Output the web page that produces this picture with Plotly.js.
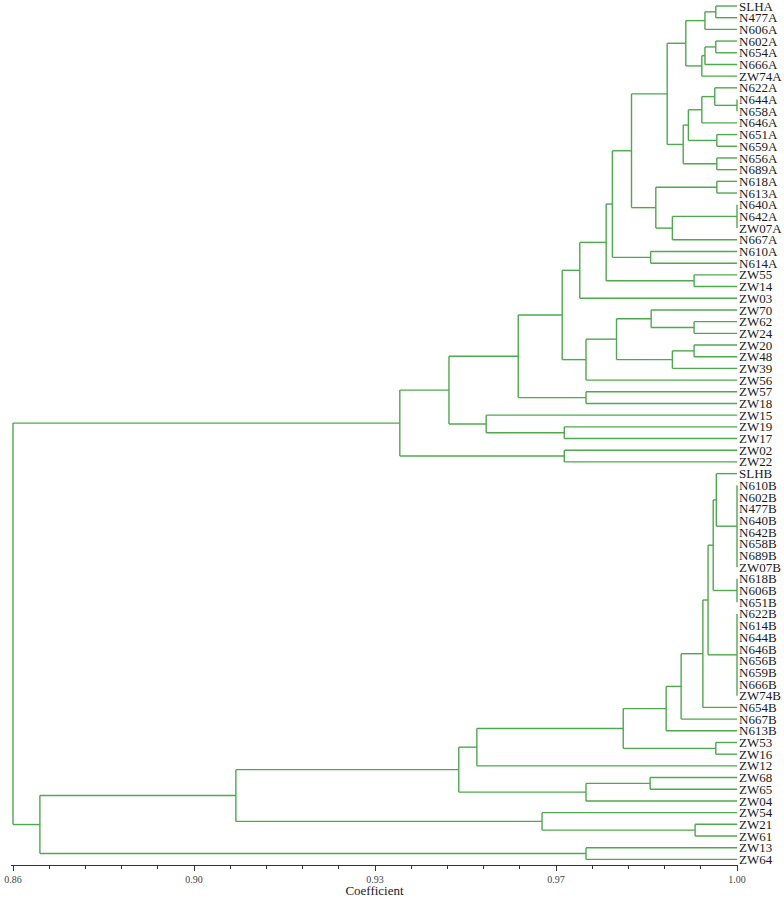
<!DOCTYPE html>
<html>
<head>
<meta charset="utf-8">
<script src="https://cdn.plot.ly/plotly-3.0.1.min.js"></script>
<style>
  html, body { margin: 0; padding: 0; background: #ffffff; }
  #chart { width: 784px; height: 898px; }
</style>
</head>
<body>
<div id="chart"></div>
<script>
// Leaf labels, top to bottom
const leaves = ['SLHA','N477A','N606A','N602A','N654A','N666A','ZW74A','N622A','N644A','N658A',
  'N646A','N651A','N659A','N656A','N689A','N618A','N613A','N640A','N642A','ZW07A',
  'N667A','N610A','N614A','ZW55','ZW14','ZW03','ZW70','ZW62','ZW24','ZW20',
  'ZW48','ZW39','ZW56','ZW57','ZW18','ZW15','ZW19','ZW17','ZW02','ZW22',
  'SLHB','N610B','N602B','N477B','N640B','N642B','N658B','N689B','ZW07B','N618B',
  'N606B','N651B','N622B','N614B','N644B','N646B','N656B','N659B','N666B','ZW74B',
  'N654B','N667B','N613B','ZW53','ZW16','ZW12','ZW68','ZW65','ZW04','ZW54',
  'ZW21','ZW61','ZW13','ZW64'];

// Cluster merges: name, members, similarity coefficient
const mergeNames = ['n1','n2','n3','n4','n5','n6','n7','n8','n9','n10',
  'n11','n12','n13','n14','n15','n16','n17','n18','n19','n20',
  'n21','n22','n23','n24','n25','n26','n27','n28','n29','n30',
  'n31','n32','n33','n34','n35','n36','n37','n38',
  'b1','b2','b3','b4','b5','b6','b7','b8','b9','b10',
  'b11','b12','b13','b14','b15','b16','b17','b18','b19','b20','root'];
const mergeChildren = [
  ['SLHA','N477A'], ['n1','N606A'], ['N602A','N654A'], ['n3','N666A'], ['n4','ZW74A'],
  ['n2','n5'], ['N644A','N658A'], ['N622A','n7'], ['n8','N646A'], ['N651A','N659A'],
  ['n9','n10'], ['N656A','N689A'], ['n11','n12'], ['n6','n13'], ['N618A','N613A'],
  ['N640A','N642A','ZW07A'], ['n16','N667A'], ['n15','n17'], ['n14','n18'], ['N610A','N614A'],
  ['n19','n20'], ['ZW55','ZW14'], ['n21','n22'], ['n23','ZW03'], ['ZW62','ZW24'],
  ['ZW70','n25'], ['ZW20','ZW48'], ['n27','ZW39'], ['n26','n28'], ['n29','ZW56'],
  ['n24','n30'], ['ZW57','ZW18'], ['n31','n32'], ['ZW19','ZW17'], ['ZW15','n34'],
  ['n33','n35'], ['ZW02','ZW22'], ['n36','n37'],
  ['N610B','N602B','N477B','N640B','N642B','N658B','N689B','ZW07B'],
  ['SLHB','b1'], ['N618B','N606B','N651B'], ['b2','b3'],
  ['N622B','N614B','N644B','N646B','N656B','N659B','N666B','ZW74B'],
  ['b4','b5'], ['b6','N654B'], ['b7','N667B'], ['b8','N613B'], ['ZW53','ZW16'],
  ['b9','b10'], ['b11','ZW12'], ['ZW68','ZW65'], ['b13','ZW04'], ['b12','b14'],
  ['ZW21','ZW61'], ['ZW54','b16'], ['b15','b17'], ['ZW13','ZW64'], ['b18','b19'],
  ['n38','b20']];
const mergeHeights = [
  0.9959, 0.9938, 0.9959, 0.9938, 0.9932, 0.9901, 1.0000, 0.9957, 0.9932, 0.9961,
  0.9906, 0.9961, 0.9896, 0.9865, 0.9961, 1.0000, 0.9875, 0.9843, 0.9796, 0.9833,
  0.9759, 0.9917, 0.9747, 0.9696, 0.9917, 0.9834, 0.9917, 0.9875, 0.9767, 0.9708,
  0.9662, 0.9708, 0.9577, 0.9666, 0.9515, 0.9443, 0.9666, 0.9348,
  1.0000, 0.9960, 1.0000, 0.9954, 1.0000, 0.9944, 0.9934, 0.9892, 0.9863, 0.9959,
  0.9780, 0.9497, 0.9832, 0.9708, 0.9462, 0.9919, 0.9623, 0.9031, 0.9708, 0.8652,
  0.8600];

// Axis ticks
const tickValues = [0.86, 0.895, 0.93, 0.965, 1.00];
const tickLabels = ['0.86', '0.90', '0.93', '0.97', '1.00'];

// Build the dendrogram segments from the merge table
const pos = {};
leaves.forEach((name, i) => { pos[name] = { y: i, h: 1.0 }; });
const xs = [], ys = [];
mergeNames.forEach((name, k) => {
  const h = mergeHeights[k];
  const kids = mergeChildren[k].map(c => pos[c]);
  let ymin = Infinity, ymax = -Infinity;
  kids.forEach(c => {
    xs.push(c.h, h, null); ys.push(c.y, c.y, null);
    ymin = Math.min(ymin, c.y); ymax = Math.max(ymax, c.y);
  });
  xs.push(h, h, null); ys.push(ymin, ymax, null);
  pos[name] = { y: (ymin + ymax) / 2, h: h };
});

const trace = {
  type: 'scatter', mode: 'lines', x: xs, y: ys,
  line: { color: 'rgb(78,168,78)', width: 1.4 },
  hoverinfo: 'skip', showlegend: false
};

const layout = {
  width: 784, height: 898,
  margin: { l: 11, r: 46, t: 0, b: 33 },
  paper_bgcolor: '#ffffff', plot_bgcolor: '#ffffff',
  showlegend: false,
  xaxis: {
    range: [0.859613, 1.000193],
    tickmode: 'array', tickvals: tickValues, ticktext: tickLabels,
    ticks: 'outside', ticklen: 5, tickwidth: 1, tickcolor: '#333',
    minor: { tickmode: 'linear', tick0: 0.86, dtick: 0.007, ticks: 'outside', ticklen: 3, tickwidth: 1, tickcolor: '#333' },
    showline: true, linecolor: '#333', linewidth: 1,
    showgrid: false, zeroline: false,
    tickfont: { family: 'Liberation Serif', size: 10, color: '#444' },
    title: { text: 'Coefficient', font: { family: 'Liberation Serif', size: 13, color: '#222' }, standoff: 6 },
    fixedrange: true
  },
  yaxis: {
    range: [73.48, -0.513],
    side: 'right',
    tickmode: 'array', tickvals: leaves.map((_, i) => i), ticktext: leaves,
    ticklabeloverflow: 'allow',
    ticks: '', showline: false, showgrid: false, zeroline: false,
    tickfont: { family: 'Liberation Serif', size: 13, color: '#1a1a1a' },
    fixedrange: true
  }
};

Plotly.newPlot('chart', [trace], layout, { staticPlot: true, displayModeBar: false });
</script>
</body>
</html>
